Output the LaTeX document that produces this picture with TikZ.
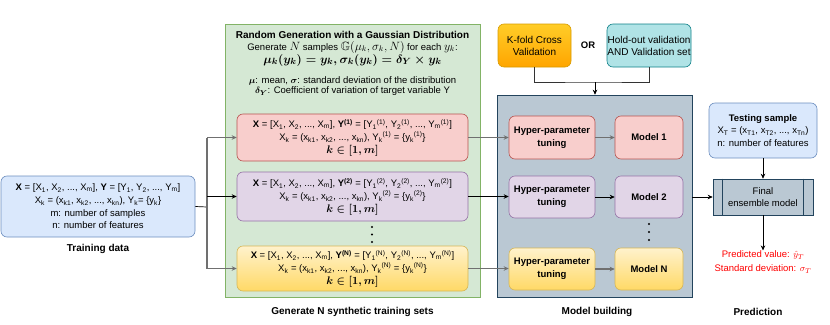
\documentclass[tikz,border=0pt]{standalone}
\usepackage{amsmath,amssymb}
\usepackage{fontspec}
\setmainfont{Liberation Sans}
\usetikzlibrary{arrows.meta,calc}
\definecolor{bfill}{HTML}{DAE8FC}\definecolor{bstroke}{HTML}{6C8EBF}
\definecolor{gfill}{HTML}{D5E8D4}\definecolor{gstroke}{HTML}{82B366}
\definecolor{rfill}{HTML}{F8CECC}\definecolor{rstroke}{HTML}{B85450}
\definecolor{pfill}{HTML}{E1D5E7}\definecolor{pstroke}{HTML}{9673A6}
\definecolor{yfillA}{HTML}{FFF2CC}\definecolor{yfillB}{HTML}{FFD966}\definecolor{ystroke}{HTML}{D6B656}
\definecolor{ofillA}{HTML}{FFCD28}\definecolor{ofillB}{HTML}{FFA500}\definecolor{ostroke}{HTML}{D79B00}
\definecolor{tfill}{HTML}{B0E3E6}\definecolor{tstroke}{HTML}{0E8088}
\definecolor{sfill}{HTML}{BAC8D3}\definecolor{sstroke}{HTML}{23445D}
\definecolor{lgray}{HTML}{707070}
\definecolor{predred}{HTML}{FF0000}
\newcommand{\sbs}[1]{\textsubscript{#1}}
\newcommand{\sps}[1]{\textsuperscript{#1}}
\newcommand{\fs}{\fontsize{9.5}{12.6}\selectfont}
\newcommand{\fl}{\fontsize{10}{12}\selectfont}
\newcommand{\fm}{\fontsize{10}{12}\selectfont}
\newcommand{\mbig}[1]{{\fontsize{12}{12}\selectfont$#1$}}
\newcommand{\mbold}[1]{{\fontsize{13}{13}\selectfont\boldmath$#1$}}
\newcommand{\kin}{{\fontsize{10.5}{12}\selectfont\boldmath$k\in[1,m]$}}
\begin{document}
\begin{tikzpicture}[x=1pt,y=-1pt,
  every node/.style={font=\fs, inner sep=0pt, align=center},
  rbox/.style={draw, rounded corners=6pt, line width=0.6pt},
  blue/.style={rbox, fill=bfill, draw=bstroke},
  red/.style={rbox, fill=rfill, draw=rstroke},
  purp/.style={rbox, fill=pfill, draw=pstroke},
  yell/.style={rbox, top color=yfillA, bottom color=yfillB, draw=ystroke},
  lbl/.style={font=\fl\bfseries},
  arr/.style={-{Stealth[length=5pt,width=4.5pt]}},
  gline/.style={draw=lgray, line width=1.3pt},
  bline/.style={draw=black, line width=0.7pt},
  dot/.style={circle, fill=black, minimum size=2.4pt}
]
\useasboundingbox (0,0) rectangle (830,324);

% ---------- Training data ----------
\node[blue, minimum width=194pt, minimum height=61pt] (train) at (98,206.5)
  {\textbf{X} = [X\sbs{1}, X\sbs{2}, ..., X\sbs{m}], \textbf{Y} = [Y\sbs{1}, Y\sbs{2}, ..., Y\sbs{m}]\\
   X\sbs{k} = (x\sbs{k1}, x\sbs{k2}, ..., x\sbs{kn}), Y\sbs{k}= \{y\sbs{k}\}\\
   m: number of samples\\
   n: number of features};
\node[lbl] (trainlbl) at (98,249) {Training data};

% ---------- Generation container ----------
\node[draw=gstroke, fill=gfill, line width=0.6pt, minimum width=255pt, minimum height=273pt] (gen) at (352.5,160.5) {};
\node[font=\fl\bfseries] (gt1) at (352.5,35) {Random Generation with a Gaussian Distribution};
\node[anchor=base] (gt2) at (352.5,50) {Generate \mbig{N} samples \mbig{\mathbb{G}(\mu_k,\sigma_k,N)} for each \mbig{y_k}:};
\node[anchor=base] (gt3) at (352.5,63) {\mbold{\mu_k(y_k)=y_k,\sigma_k(y_k)=\delta_Y\times y_k}};
\node (gt4) at (352.5,80.5) {{\boldmath$\mu$: mean, $\sigma$: standard deviation of the distribution}};
\node (gt5) at (352.5,91.5) {{\boldmath$\delta_Y$: Coefficient of variation of target variable Y}};

\node[red, minimum width=231pt, minimum height=47pt] (g1) at (352.5,137.5)
  {\textbf{X} = [X\sbs{1}, X\sbs{2}, ..., X\sbs{m}], \textbf{Y\sps{(1)}} = [Y\sbs{1}\sps{(1)}, Y\sbs{2}\sps{(1)}, ..., Y\sbs{m}\sps{(1)}]\\
   X\sbs{k} = (x\sbs{k1}, x\sbs{k2}, ..., x\sbs{kn}), Y\sbs{k}\sps{(1)} = \{y\sbs{k}\sps{(1)}\}\\
   \kin};
\node[purp, minimum width=231pt, minimum height=49pt] (g2) at (352.5,196.5)
  {\textbf{X} = [X\sbs{1}, X\sbs{2}, ..., X\sbs{m}], \textbf{Y\sps{(2)}} = [Y\sbs{1}\sps{(2)}, Y\sbs{2}\sps{(2)}, ..., Y\sbs{m}\sps{(2)}]\\
   X\sbs{k} = (x\sbs{k1}, x\sbs{k2}, ..., x\sbs{kn}), Y\sbs{k}\sps{(2)} = \{y\sbs{k}\sps{(2)}\}\\
   \kin};
\node[yell, minimum width=231pt, minimum height=45pt] (g3) at (352.5,268.5)
  {\textbf{X} = [X\sbs{1}, X\sbs{2}, ..., X\sbs{m}], \textbf{Y\sps{(N)}} = [Y\sbs{1}\sps{(N)}, Y\sbs{2}\sps{(N)}, ..., Y\sbs{m}\sps{(N)}]\\
   X\sbs{k} = (x\sbs{k1}, x\sbs{k2}, ..., x\sbs{kn}), Y\sbs{k}\sps{(N)} = \{y\sbs{k}\sps{(N)}\}\\
   \kin};
\node[dot] (gd1) at (372,227) {};
\node[dot] (gd2) at (372,234.5) {};
\node[dot] (gd3) at (372,242) {};
\node[lbl] (genlbl) at (352.5,312) {Generate N synthetic training sets};

% ---------- training connectors ----------
\coordinate (j) at (207,207);
\draw[bline] (train.east) -- (j);
\draw[gline] (j |- g1.west) -- (j |- g3.west);
\draw[gline,arr] (j |- g1.west) -- (g1.west);
\draw[gline,arr] (j |- g3.west) -- (g3.west);
\draw[bline,arr] (j |- g2.west) -- (g2.west);

% ---------- Validation ----------
\node[rbox, font=\fm, top color=ofillA, bottom color=ofillB, draw=ostroke, minimum width=73pt, minimum height=43pt] (kfold) at (534.5,45.5) {K-fold Cross\\Validation};
\node[font=\fs\bfseries] (or) at (588,45.5) {OR};
\node[rbox, font=\fm, fill=tfill, draw=tstroke, minimum width=84pt, minimum height=43pt] (hold) at (649,45.5) {Hold-out validation\\AND Validation set};

% ---------- Model building ----------
\node[draw=sstroke, fill=sfill, line width=0.6pt, minimum width=195pt, minimum height=202pt] (panel) at (594.5,196) {};
\coordinate (jv) at (595,82);
\draw[draw=black!80, line width=0.7pt] (kfold.south) |- (jv) -| (hold.south);
\draw[bline,arr] (jv) -- (jv |- panel.north);

\node[red, font=\fs\bfseries, minimum width=86pt, minimum height=43pt] (h1) at (552,137.5) {Hyper-parameter\\tuning};
\node[purp, font=\fs\bfseries, minimum width=86pt, minimum height=42pt] (h2) at (552,197) {Hyper-parameter\\tuning};
\node[yell, font=\fs\bfseries, minimum width=86pt, minimum height=42pt] (h3) at (552,269) {Hyper-parameter\\tuning};
\node[red, font=\fs\bfseries, minimum width=68pt, minimum height=43pt] (m1) at (649,137.5) {Model 1};
\node[purp, font=\fs\bfseries, minimum width=68pt, minimum height=42pt] (m2) at (649,197) {Model 2};
\node[yell, font=\fs\bfseries, minimum width=68pt, minimum height=42pt] (m3) at (649,269) {Model N};
\node[dot] (md1) at (649,224) {};
\node[dot] (md2) at (649,232) {};
\node[dot] (md3) at (649,240) {};
\node[lbl] (modlbl) at (597,312) {Model building};

\draw[gline,arr] (g1.east) -- (h1.west |- g1.east);
\draw[bline,arr] (g2.east) -- (h2.west |- g2.east);
\draw[gline,arr] (g3.east) -- (h3.west |- g3.east);
\draw[gline,arr] (h1.east) -- (m1.west);
\draw[bline,arr] (h2.east) -- (m2.west);
\draw[gline,arr] (h3.east) -- (m3.west);

% ---------- Prediction ----------
\node[blue, minimum width=108pt, minimum height=55pt] (test) at (763,130.5)
  {\textbf{Testing sample}\\X\sbs{T} = (x\sbs{T1}, x\sbs{T2}, ..., x\sbs{Tn})\\n: number of features};
\node[draw=sstroke, fill=sfill, line width=0.6pt, minimum width=100pt, minimum height=36pt] (final) at (763,197) {Final\\ensemble model};
\draw[draw=sstroke, line width=0.6pt] ($(final.north west)+(10,0)$) -- ($(final.south west)+(10,0)$);
\draw[draw=sstroke, line width=0.6pt] ($(final.north east)+(-10,0)$) -- ($(final.south east)+(-10,0)$);
\node[text=predred, anchor=base] (pred1) at (763,257.5) {Predicted value: $\hat{y}_T$};
\node[text=predred, anchor=base] (pred2) at (763,271.5) {Standard deviation: $\sigma_T$};
\node[lbl] (predlbl) at (758,312) {Prediction};

\draw[bline,arr] (test.south) -- (final.north);
\draw[bline,arr] (panel.east |- final.west) -- (final.west);
\draw[bline,arr] (final.south) -- (final.south |- pred1.north);
\end{tikzpicture}
\end{document}
